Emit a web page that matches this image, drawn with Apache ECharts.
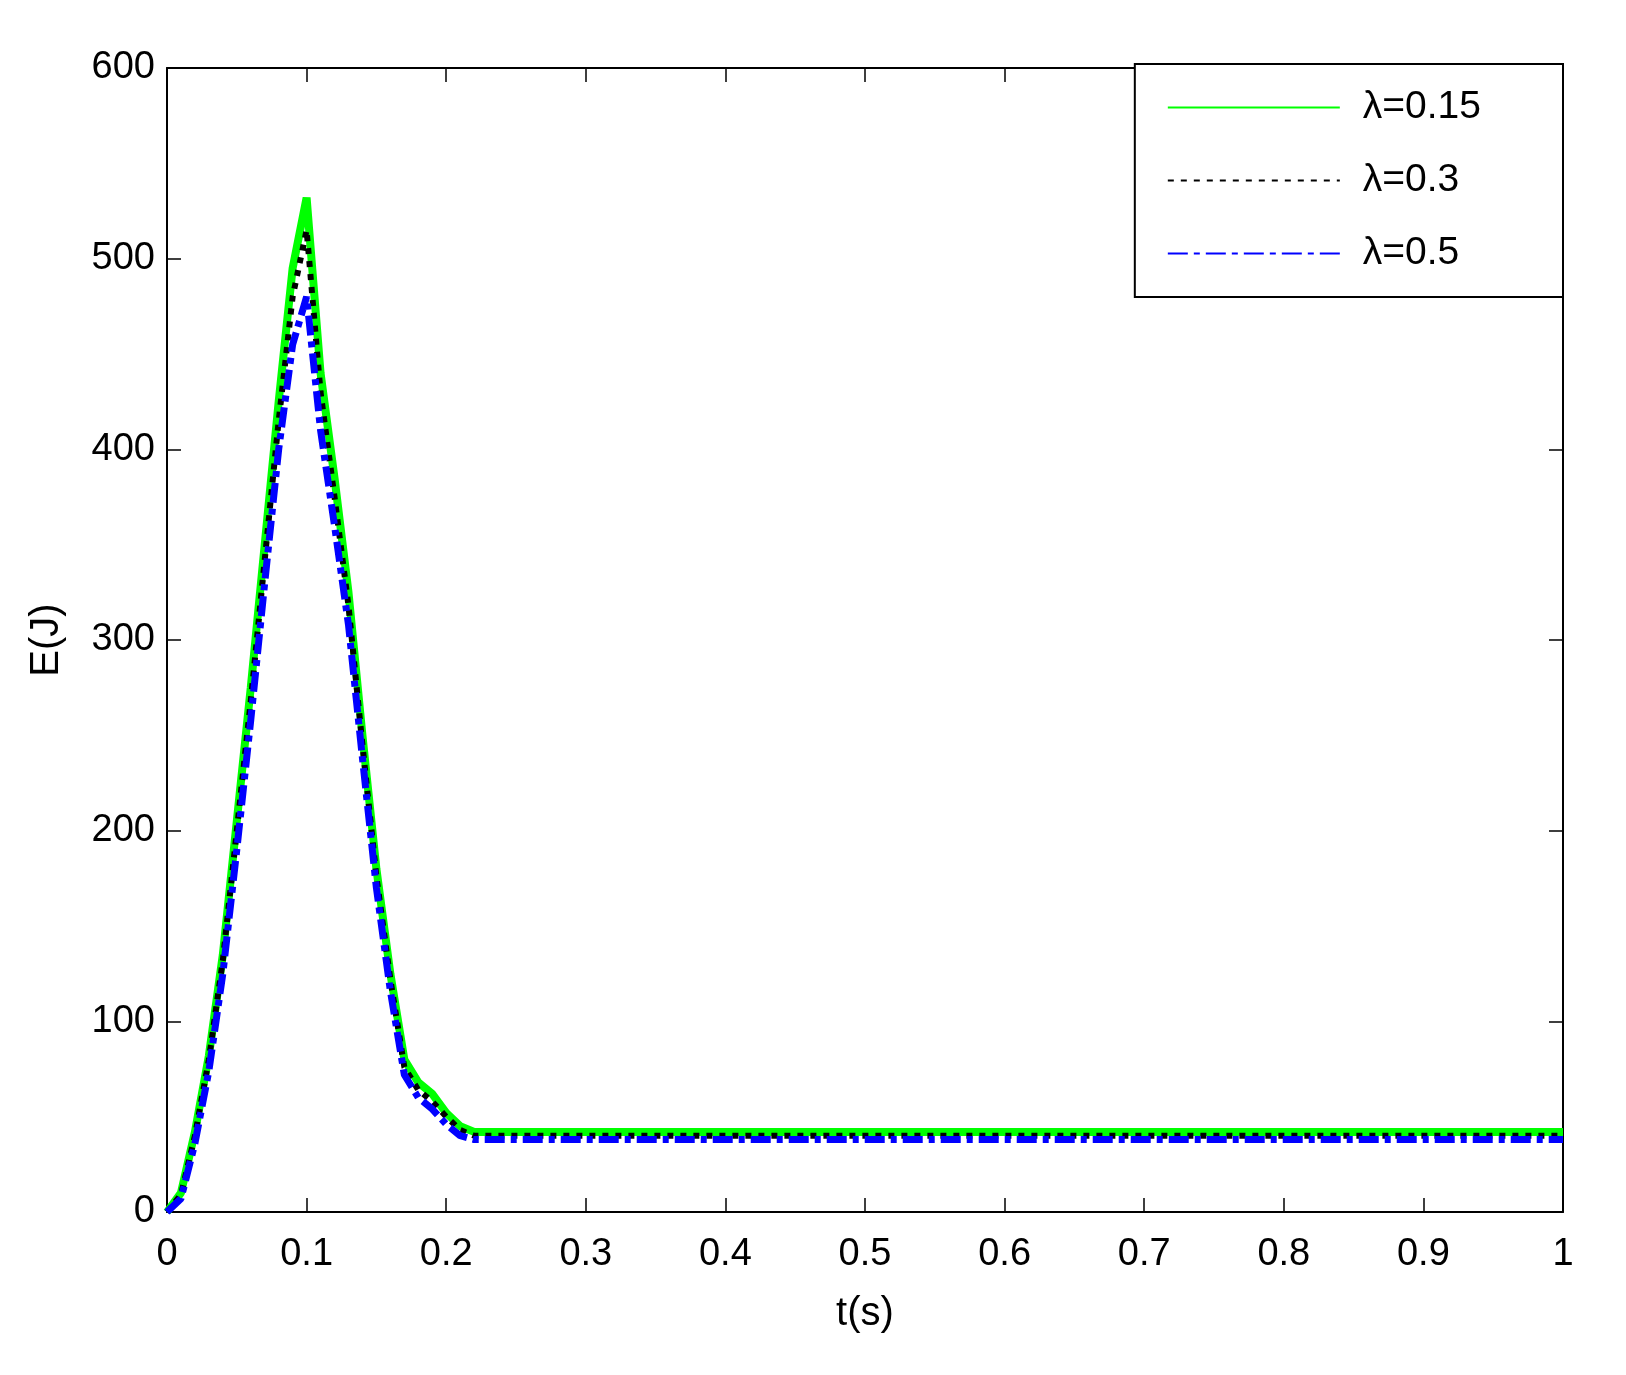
<!DOCTYPE html>
<html><head><meta charset="utf-8">
<script src="https://cdn.jsdelivr.net/npm/echarts@6/dist/echarts.min.js"></script>
<style>html,body{margin:0;background:#fff}#c{width:1626px;height:1375px}</style>
</head><body><div id="c"></div>
<script>
const t = [0,0.01,0.02,0.03,0.04,0.05,0.06,0.07,0.08,0.09,0.1,0.11,0.12,0.13,0.14,0.15,0.16,0.17,0.18,0.19,0.2,0.21,0.22,0.3,0.5,0.7,1];
const e015 = [0,10,42,82,135,205,275,350,425,495,532,440,385,325,250,180,125,80,68,62,52,45,42,42,42,42,42];
const e03  = [0,9,40,80,132,200,268,342,415,480,515,430,375,318,245,176,122,76,64,58,50,43,40,40,40,40,40];
const e05  = [0,7,36,74,125,190,258,330,400,455,480,410,360,308,238,170,116,72,60,54,46,40,38,38,38,38,38];
const xTicks = [0,0.1,0.2,0.3,0.4,0.5,0.6,0.7,0.8,0.9,1];
const names = ['λ=0.15','λ=0.3','λ=0.5'];
const pair = a => t.map((x,i)=>[x,a[i]]);
const font = 'Liberation Sans';
const axBase = {min:0,axisLine:{show:true,onZero:false,lineStyle:{color:'#000',width:2}},axisTick:{show:true,inside:true,length:14,lineStyle:{color:'#000',width:1.5}},splitLine:{show:false}};
const chart = echarts.init(document.getElementById('c'));
chart.setOption({
  animation:false,
  grid:{left:167,right:63,top:68,bottom:163},
  legend:{right:63,top:64,orient:'vertical',itemWidth:172,itemHeight:14,itemGap:34,padding:[24,82,24,32],
    borderColor:'#000',borderWidth:2,borderRadius:0,backgroundColor:'#fff',
    itemStyle:{opacity:0},
    textStyle:{fontFamily:font,fontSize:39,color:'#000',padding:[0,0,0,18]},data:names},
  xAxis:[
    Object.assign({},axBase,{type:'value',max:1,interval:0.1,name:'t(s)',nameLocation:'middle',nameGap:82,
      nameTextStyle:{fontFamily:font,fontSize:40,color:'#000'},
      axisLabel:{fontFamily:font,fontSize:38,color:'#000',margin:24,formatter:v=>xTicks.includes(+v.toFixed(1))?String(+v.toFixed(1)):''}}),
    Object.assign({},axBase,{type:'value',max:1,interval:0.1,position:'top',axisLabel:{show:false}})
  ],
  yAxis:[
    Object.assign({},axBase,{type:'value',max:600,interval:100,name:'E(J)',nameLocation:'middle',nameGap:100,
      nameTextStyle:{fontFamily:font,fontSize:40,color:'#000'},
      axisLabel:{fontFamily:font,fontSize:38,color:'#000',margin:12}}),
    Object.assign({},axBase,{type:'value',max:600,interval:100,position:'right',axisLabel:{show:false}})
  ],
  series:[
    {name:names[0],type:'line',data:pair(e015),symbol:'none',lineStyle:{color:'#00ff00',width:8},itemStyle:{color:'#00ff00'}},
    {name:names[1],type:'line',data:pair(e03),symbol:'none',lineStyle:{color:'#000',width:6,type:[6,7]},itemStyle:{color:'#000'}},
    {name:names[2],type:'line',data:pair(e05),symbol:'none',lineStyle:{color:'#0000ff',width:7,type:[20,6,6,6]},itemStyle:{color:'#0000ff'}}
  ]
});
</script></body></html>
